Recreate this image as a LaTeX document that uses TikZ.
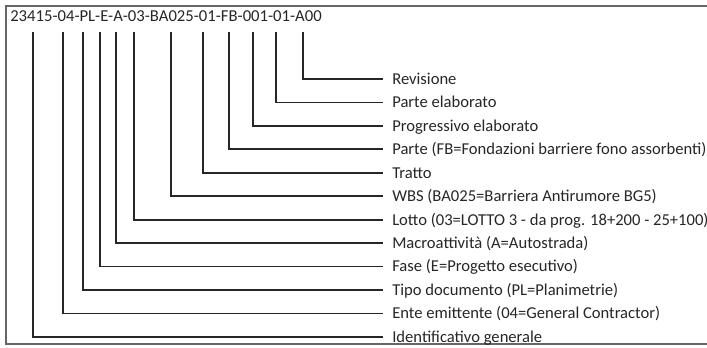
\documentclass[tikz,border=0pt]{standalone}
\usepackage{fontspec}
\setmainfont{Carlito}
\usetikzlibrary{positioning}

\begin{document}
\begin{tikzpicture}[x=0.75pt, y=-0.75pt,
    codetext/.style={anchor=base west, inner sep=0pt, text=black!85,
      font=\fontsize{12.5}{15}\selectfont},
    fieldlabel/.style={anchor=west, inner xsep=6.75pt, inner ysep=0pt,
      text height=9pt, text depth=1pt, text=black!85,
      font=\fontsize{12.45}{15}\selectfont},
    leader/.style={draw=black!85, line width=1.3pt},
    frameline/.style={draw=black!60, line width=1pt},
  ]
  \useasboundingbox (0,0) rectangle (707,348);
  \clip (0,0) rectangle (707,348);

  % frame, open on the right side
  \draw[frameline] (707,6) -- (6,6) -- (6,344) -- (707,344);

  % document code
  \node[codetext] (code) at (10,22) {23415-04-PL-E-A-03-BA025-01-FB-001-01-A00};

  % tick tops under each field of the code (right to left)
  \foreach \i/\x in {1/303, 2/276, 3/253, 4/229, 5/203, 6/171,
                     7/134, 8/116, 9/100, 10/83, 11/63, 12/33}
    \coordinate (t\i) at (\x,32);

  % field descriptions, top to bottom
  \foreach \i/\txt in {1/{Revisione},
                       2/{Parte elaborato},
                       3/{Progressivo elaborato},
                       4/{Parte (FB=Fondazioni barriere fono assorbenti)},
                       5/{Tratto},
                       6/{WBS (BA025=Barriera Antirumore BG5)},
                       7/{Lotto (03=LOTTO 3 - da prog. 18+200 - 25+100)},
                       8/{Macroattività (A=Autostrada)},
                       9/{Fase (E=Progetto esecutivo)},
                       10/{Tipo documento (PL=Planimetrie)},
                       11/{Ente emittente (04=General Contractor)},
                       12/{Identificativo generale}}
    \node[fieldlabel] (l\i) at (383,{79+23.45*(\i-1)}) {\txt};

  % leaders
  \foreach \i in {1,...,12}
    \draw[leader] (t\i) |- (l\i.west);
\end{tikzpicture}
\end{document}
